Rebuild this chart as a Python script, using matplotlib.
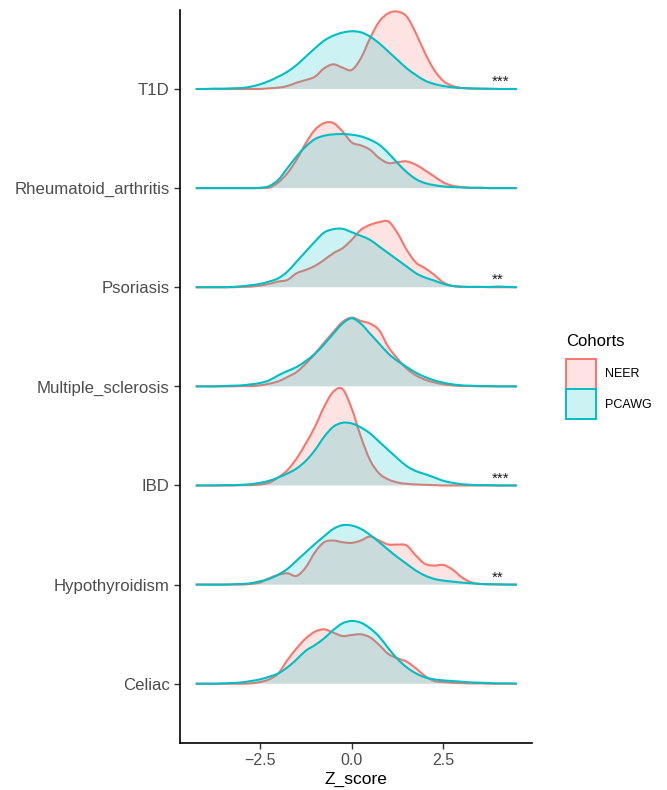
import numpy as np
import matplotlib
matplotlib.use("Agg")
import matplotlib.pyplot as plt
from matplotlib.patches import Patch, PathPatch
from matplotlib.path import Path

plt.rcParams['font.family'] = ['Liberation Sans', 'DejaVu Sans']

# Z_score grid the densities were read at
z_grid = np.arange(-4.25, 4.51, 0.25)

diseases = ["Celiac", "Hypothyroidism", "IBD", "Multiple_sclerosis",
            "Psoriasis", "Rheumatoid_arthritis", "T1D"]

# density heights (ridge units x 297), one per z_grid point
neer = {
    "T1D": [0, 0, 0, 0, 0, 0, 0, 0, 2, 4, 9, 19, 27, 37, 62, 74, 64, 57,
            92, 152, 202, 227, 232, 217, 167, 107, 57, 24, 9, 3, 1, 1, 0, 0, 0, 0],
    "Rheumatoid_arthritis": [0, 0, 0, 0, 0, 0, 0, 0, 1, 17, 45, 85, 135, 175, 195, 195, 170, 137,
                             128, 115, 90, 75, 78, 80, 70, 53, 35, 17, 7, 3, 1, 1, 0, 0, 0, 0],
    "Psoriasis": [0, 0, 0, 0, 0, 1, 2, 5, 10, 17, 22, 42, 52, 64, 82, 102, 117, 142,
                  172, 187, 195, 197, 162, 112, 74, 57, 37, 14, 4, 1, 1, 1, 0, 0, 0, 0],
    "Multiple_sclerosis": [0, 0, 0, 0, 0, 1, 1, 3, 8, 15, 28, 43, 68, 98, 131, 163, 193, 206,
                           196, 188, 168, 118, 83, 53, 33, 20, 12, 6, 3, 1, 1, 0, 0, 0, 0, 0],
    "IBD": [0, 0, 0, 0, 0, 1, 1, 3, 8, 24, 46, 81, 126, 176, 236, 281, 289, 231,
            146, 76, 36, 18, 9, 5, 3, 2, 1, 0, 0, 0, 0, 0, 0, 0, 0, 0],
    "Hypothyroidism": [0, 0, 0, 0, 0, 0, 2, 6, 19, 29, 34, 26, 52, 97, 127, 132, 127, 125,
                       132, 144, 132, 120, 120, 117, 87, 62, 57, 59, 45, 22, 7, 2, 1, 0, 0, 0],
    "Celiac": [0, 0, 0, 0, 0, 0, 1, 5, 13, 31, 71, 106, 136, 156, 163, 153, 143, 146,
               148, 139, 116, 89, 76, 66, 46, 23, 8, 5, 3, 2, 1, 1, 0, 0, 0, 0],
}
pcawg = {
    "T1D": [0, 0, 1, 1, 2, 3, 7, 14, 24, 37, 52, 72, 97, 122, 145, 160, 169, 173,
            170, 157, 137, 112, 87, 62, 42, 25, 15, 9, 5, 3, 2, 1, 1, 0, 0, 0],
    "Rheumatoid_arthritis": [0, 0, 0, 0, 0, 0, 0, 1, 6, 25, 60, 95, 125, 147, 157, 161, 162, 160,
                             155, 145, 130, 105, 75, 48, 27, 15, 9, 5, 3, 2, 1, 1, 0, 0, 0, 0],
    "Psoriasis": [0, 0, 0, 0, 1, 3, 6, 10, 17, 27, 47, 77, 107, 137, 164, 174, 175, 165,
                  154, 142, 122, 102, 82, 62, 42, 29, 20, 10, 4, 2, 1, 1, 1, 2, 1, 0],
    "Multiple_sclerosis": [0, 0, 0, 1, 2, 3, 6, 10, 18, 33, 46, 58, 76, 98, 126, 158, 188, 204,
                           188, 158, 128, 98, 76, 58, 41, 28, 18, 11, 6, 3, 2, 1, 1, 0, 0, 0],
    "IBD": [0, 0, 0, 1, 1, 2, 4, 8, 14, 24, 36, 51, 74, 106, 146, 176, 188, 186,
            174, 156, 131, 106, 81, 58, 43, 34, 24, 14, 8, 4, 2, 1, 1, 0, 0, 0],
    "Hypothyroidism": [0, 0, 0, 0, 1, 2, 4, 10, 17, 30, 47, 72, 97, 122, 145, 167, 178, 177,
                       167, 149, 127, 104, 82, 62, 42, 27, 17, 12, 9, 6, 4, 2, 1, 1, 0, 0],
    "Celiac": [0, 0, 0, 1, 2, 4, 8, 13, 21, 31, 49, 73, 99, 116, 136, 161, 181, 188,
               183, 166, 141, 106, 74, 49, 31, 19, 13, 10, 8, 6, 4, 3, 2, 1, 1, 0],
}

# significance labels
stars = {"T1D": "***", "Psoriasis": "**", "IBD": "***", "Hypothyroidism": "**"}
star_x = 3.82

col_neer = "#F8766D"
col_pcawg = "#00BFC4"


# smooth outline through the read points (Catmull-Rom drawn as bezier curves)
def ridge_path(x, y, base, closed):
    pts = np.column_stack([x, y])
    ext = np.vstack([pts[0], pts, pts[-1]])
    verts, codes = [], []
    if closed:
        verts.append((x[0], base)); codes.append(Path.MOVETO)
        verts.append(tuple(pts[0])); codes.append(Path.LINETO)
    else:
        verts.append(tuple(pts[0])); codes.append(Path.MOVETO)
    for k in range(len(pts) - 1):
        p0, p1, p2, p3 = ext[k], ext[k + 1], ext[k + 2], ext[k + 3]
        c1 = p1 + (p2 - p0) / 6
        c2 = p2 - (p3 - p1) / 6
        c1[1] = max(c1[1], base)
        c2[1] = max(c2[1], base)
        verts += [tuple(c1), tuple(c2), tuple(p2)]
        codes += [Path.CURVE4] * 3
    if closed:
        verts.append((x[-1], base)); codes.append(Path.LINETO)
        verts.append((x[0], base)); codes.append(Path.CLOSEPOLY)
    return Path(verts, codes)


fig = plt.figure(figsize=(6.67, 7.9), dpi=100)
ax = fig.add_axes([180/667, 47.3/790, 352/667, 732.7/790])

for i, d in enumerate(diseases):
    base = i + 1
    for vals, col in [(neer[d], col_neer), (pcawg[d], col_pcawg)]:
        h = base + np.array(vals) / 297.0
        ax.add_patch(PathPatch(ridge_path(z_grid, h, base, True),
                               facecolor=col, alpha=0.2, lw=0))
        ax.add_patch(PathPatch(ridge_path(z_grid, h, base, False),
                               facecolor="none", edgecolor=col, lw=1.5,
                               joinstyle="round", capstyle="butt"))
    if d in stars:
        ax.text(star_x, base + 0.03, stars[d], fontsize=11, ha="left",
                va="baseline", color="#1a1a1a")

ax.set_xlim(-4.678, 4.913)
ax.set_ylim(0.405, 7.797)
ax.set_xticks([-2.5, 0.0, 2.5])
ax.set_xticklabels(["\u22122.5", "0.0", "2.5"])
ax.set_yticks(range(1, len(diseases) + 1))
ax.set_yticklabels(diseases, fontsize=12.1)
ax.tick_params(axis="both", labelcolor="#4D4D4D", color="#333333",
               length=4, width=1)
ax.tick_params(axis="x", labelsize=11.5)
ax.set_xlabel("Z_score", fontsize=12.5, labelpad=3)
for s in ["top", "right"]:
    ax.spines[s].set_visible(False)
for s in ["left", "bottom"]:
    ax.spines[s].set_linewidth(1.2)

handles = [Patch(facecolor=col_neer + "33", edgecolor=col_neer, lw=1.4, label="NEER"),
           Patch(facecolor=col_pcawg + "33", edgecolor=col_pcawg, lw=1.4, label="PCAWG")]
leg = fig.legend(handles=handles, title="Cohorts", loc="upper left",
                 bbox_to_anchor=(560/667, 1 - 328/790), frameon=False,
                 fontsize=9, title_fontsize=12, handlelength=2.4, handleheight=3.3,
                 labelspacing=0.05, handletextpad=0.7, borderpad=0, alignment="left")
leg._legend_box.sep = 7

fig.savefig("out.png", dpi=100)
